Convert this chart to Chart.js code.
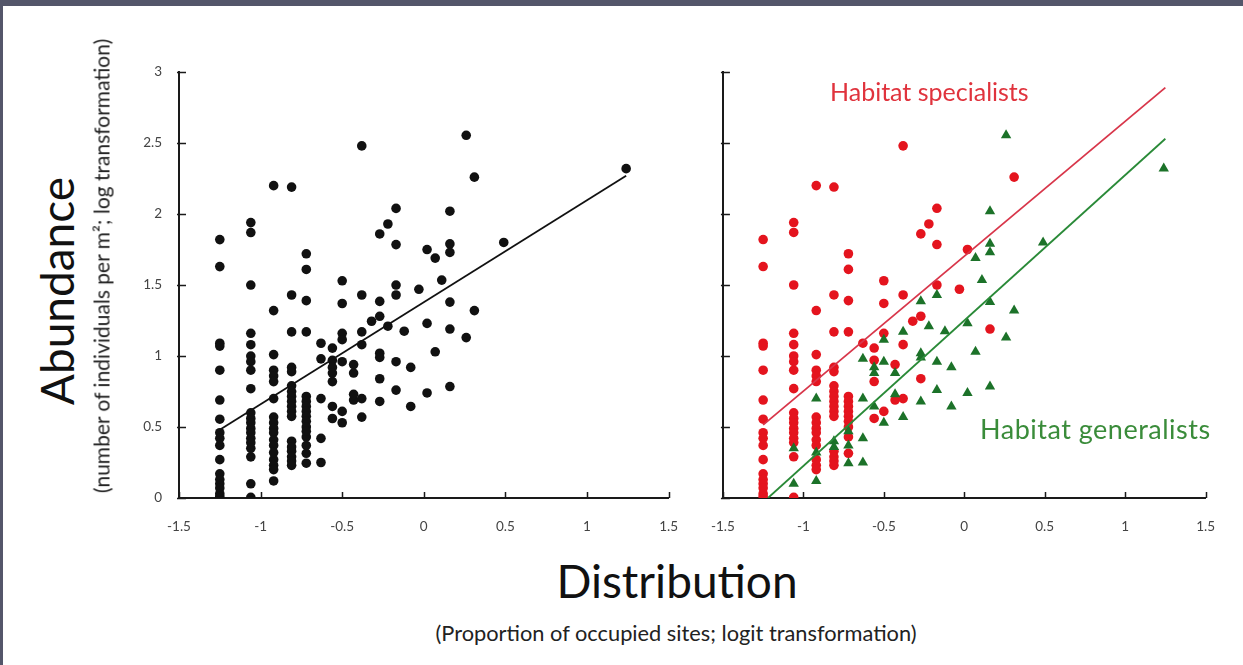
<!DOCTYPE html>
<html>
<head>
<meta charset="utf-8">
<script src="https://cdn.jsdelivr.net/npm/chart.js@4.4.1/dist/chart.umd.min.js"></script>
<style>
  html, body { margin: 0; padding: 0; }
  body { width: 1243px; height: 665px; background: #54566a; position: relative; overflow: hidden; font-family: Lato, "Open Sans", sans-serif; }
  #panel { position: absolute; left: 3px; top: 6px; width: 1240px; height: 659px; background: #ffffff; }
  canvas { position: absolute; }
  .t { position: absolute; white-space: nowrap; }
</style>
</head>
<body>
<div id="panel"></div>
<canvas id="left" width="599" height="503" style="left:100px;top:47px;width:599px;height:503px"></canvas>
<canvas id="right" width="546" height="490" style="left:690px;top:60px;width:546px;height:490px"></canvas>

<div class="t" id="ytitle" style="left:56px;top:291px;font-size:46px;color:#111;transform:translate(-50%,-50%) rotate(-90deg);">Abundance</div>
<div class="t" id="ysub" style="left:101px;top:266px;font-size:21px;color:#222;transform:translate(-50%,-50%) rotate(-90deg);">(number of individuals per m²; log transformation)</div>
<div class="t" id="xtitle" style="left:677px;top:580px;font-size:46px;color:#111;transform:translate(-50%,-50%);">Distribution</div>
<div class="t" id="xsub" style="left:676px;top:632px;font-size:21.8px;color:#222;transform:translate(-50%,-50%);">(Proportion of occupied sites; logit transformation)</div>
<div class="t" id="lblSpec" style="left:830px;top:76px;font-size:25px;color:#e0333d;">Habitat specialists</div>
<div class="t" id="lblGen" style="left:980px;top:412px;font-size:27px;letter-spacing:0.5px;color:#3a8c3a;">Habitat generalists</div>

<script>
// ---- data ----
const xTickValues = [-1.5, -1, -0.5, 0, 0.5, 1, 1.5];
const yTickValues = [0, 0.5, 1, 1.5, 2, 2.5, 3];

// habitat specialists (red circles) [distribution, abundance]
const specialists = [
  [-1.25,1.82],[-1.25,1.63],[-1.25,1.09],[-1.25,1.07],[-1.25,0.90],[-1.25,0.69],[-1.25,0.555],[-1.25,0.46],
  [-1.25,0.42],[-1.25,0.37],[-1.25,0.27],[-1.25,0.17],[-1.25,0.13],[-1.25,0.10],[-1.25,0.07],[-1.25,0.03],[-1.25,0.01],
  [-1.06,1.94],[-1.06,1.87],[-1.06,1.50],[-1.06,1.16],[-1.06,1.08],[-1.06,1.00],[-1.06,0.96],[-1.06,0.90],
  [-1.06,0.77],[-1.06,0.60],[-1.06,0.56],[-1.06,0.53],[-1.06,0.49],[-1.06,0.46],[-1.06,0.42],[-1.06,0.39],[-1.06,0.29],[-1.06,0.005],
  [-0.92,2.20],[-0.92,1.32],[-0.92,1.01],[-0.92,0.90],[-0.92,0.86],[-0.92,0.82],[-0.92,0.57],[-0.92,0.53],
  [-0.92,0.49],[-0.92,0.46],[-0.92,0.41],[-0.92,0.37],[-0.92,0.27],[-0.92,0.23],[-0.92,0.20],
  [-0.81,2.19],[-0.81,1.43],[-0.81,1.17],[-0.81,0.92],[-0.81,0.89],[-0.81,0.79],[-0.81,0.75],[-0.81,0.715],
  [-0.81,0.68],[-0.81,0.645],[-0.81,0.61],[-0.81,0.575],[-0.81,0.33],[-0.81,0.29],[-0.81,0.26],[-0.81,0.23],
  [-0.72,1.72],[-0.72,1.61],[-0.72,1.39],[-0.72,1.17],[-0.72,0.715],[-0.72,0.68],[-0.72,0.645],[-0.72,0.61],
  [-0.72,0.575],[-0.72,0.54],[-0.72,0.50],[-0.72,0.43],[-0.72,0.315],
  [-0.63,1.09],
  [-0.56,1.056],[-0.56,0.97],[-0.56,0.82],[-0.56,0.56],
  [-0.50,1.53],[-0.50,1.37],[-0.50,1.16],[-0.50,0.61],
  [-0.43,0.94],[-0.43,0.69],
  [-0.38,2.48],[-0.38,1.43],[-0.38,1.08],[-0.38,0.70],
  [-0.32,1.245],
  [-0.27,1.86],[-0.27,1.28],[-0.27,0.84],
  [-0.22,1.93],
  [-0.17,2.04],[-0.17,1.785],[-0.17,1.50],
  [-0.03,1.47],
  [0.02,1.75],
  [0.16,1.19],
  [0.31,2.26]
];

// habitat generalists (green triangles) [distribution, abundance]
const generalists = [
  [-1.06,0.35],[-1.06,0.10],
  [-0.92,0.70],[-0.92,0.32],[-0.92,0.12],
  [-0.81,0.40],[-0.81,0.36],
  [-0.72,0.47],[-0.72,0.37],[-0.72,0.245],
  [-0.63,0.98],[-0.63,0.70],[-0.63,0.42],[-0.63,0.25],
  [-0.56,0.92],[-0.56,0.88],[-0.56,0.645],
  [-0.50,1.115],[-0.50,0.96],[-0.50,0.53],
  [-0.43,0.88],[-0.43,0.73],
  [-0.38,1.17],[-0.38,0.57],
  [-0.27,1.385],[-0.27,1.02],[-0.27,0.99],[-0.27,0.68],
  [-0.22,1.21],
  [-0.17,1.43],[-0.17,0.96],[-0.17,0.76],
  [-0.12,1.175],
  [-0.08,0.92],[-0.08,0.645],
  [0.02,1.23],[0.02,0.74],
  [0.07,1.69],[0.07,1.03],
  [0.11,1.535],
  [0.16,2.02],[0.16,1.79],[0.16,1.73],[0.16,1.38],[0.16,0.785],
  [0.26,2.555],[0.26,1.13],
  [0.31,1.32],
  [0.49,1.80],
  [1.24,2.32]
];

// fitted regression lines (end points)
const allFit = [[-1.25,0.48],[1.24,2.27]];
const specialistFit = [[-1.25,0.515],[1.25,2.89]];
const generalistFit = [[-1.22,0.0],[1.25,2.53]];

// ---- helpers ----
const toXY = arr => arr.map(p => ({x: p[0], y: p[1]}));
const allPoints = specialists.concat(generalists);

const insideTicks = {
  id: 'insideTicks',
  afterDraw(chart) {
    const ctx = chart.ctx;
    const xs = chart.scales.x, ys = chart.scales.y;
    ctx.save();
    ctx.strokeStyle = '#1a1a1a';
    ctx.lineWidth = 1.5;
    ctx.beginPath();
    xTickValues.forEach(v => {
      const px = Math.round(xs.getPixelForValue(v)) + 0.5;
      ctx.moveTo(px, ys.bottom);
      ctx.lineTo(px, ys.bottom - 6);
    });
    yTickValues.forEach(v => {
      const py = Math.round(ys.getPixelForValue(v)) + 0.5;
      ctx.moveTo(xs.left - 2, py);
      ctx.lineTo(xs.left + 7, py);
    });
    ctx.stroke();
    ctx.restore();
  }
};

const fmt = v => String(v);

function makeOptions(yWidth, showYLabels, padTop) {
  return {
    responsive: false,
    animation: false,
    events: [],
    layout: { padding: { top: padTop, right: 0, left: 0, bottom: 0 } },
    plugins: { legend: { display: false }, tooltip: { enabled: false } },
    scales: {
      x: {
        type: 'linear', min: -1.5, max: 1.5,
        afterBuildTicks: s => { s.ticks = xTickValues.map(v => ({value: v})); },
        afterFit: s => { s.height = 52; },
        grid: { display: true, drawOnChartArea: false, drawTicks: false },
        border: { display: true, color: '#1a1a1a', width: 2 },
        ticks: { padding: 21, color: '#444', font: { family: 'Lato', size: 13.5 }, callback: fmt }
      },
      y: {
        type: 'linear', min: 0, max: 3,
        afterBuildTicks: s => { s.ticks = yTickValues.map(v => ({value: v})); },
        afterFit: s => { s.width = yWidth; },
        grid: { display: true, drawOnChartArea: false, drawTicks: false },
        border: { display: true, color: '#1a1a1a', width: 2 },
        ticks: { display: showYLabels, padding: 17, color: '#444', font: { family: 'Lato', size: 13.5 }, callback: fmt }
      }
    }
  };
}

new Chart(document.getElementById('left'), {
  type: 'scatter',
  data: {
    datasets: [
      { data: toXY(allFit), showLine: true, borderColor: '#111', borderWidth: 1.8, pointRadius: 0, order: 0 },
      { data: toXY(allPoints), backgroundColor: '#111', borderWidth: 0, pointRadius: 4.8, order: 1 }
    ]
  },
  options: makeOptions(79, true, 0),
  plugins: [insideTicks]
});

new Chart(document.getElementById('right'), {
  type: 'scatter',
  data: {
    datasets: [
      { data: toXY(specialistFit), showLine: true, borderColor: '#d8364a', borderWidth: 1.8, pointRadius: 0, order: 0 },
      { data: toXY(generalistFit), showLine: true, borderColor: '#2a8a38', borderWidth: 1.8, pointRadius: 0, order: 0 },
      { data: toXY(specialists), backgroundColor: '#e4141e', borderWidth: 0, pointRadius: 4.8, order: 2 },
      { data: toXY(generalists), backgroundColor: '#1c7229', borderWidth: 0, pointStyle: 'triangle', pointRadius: 6, order: 1 }
    ]
  },
  options: makeOptions(26, false, 12),
  plugins: [insideTicks]
});
</script>
</body>
</html>
